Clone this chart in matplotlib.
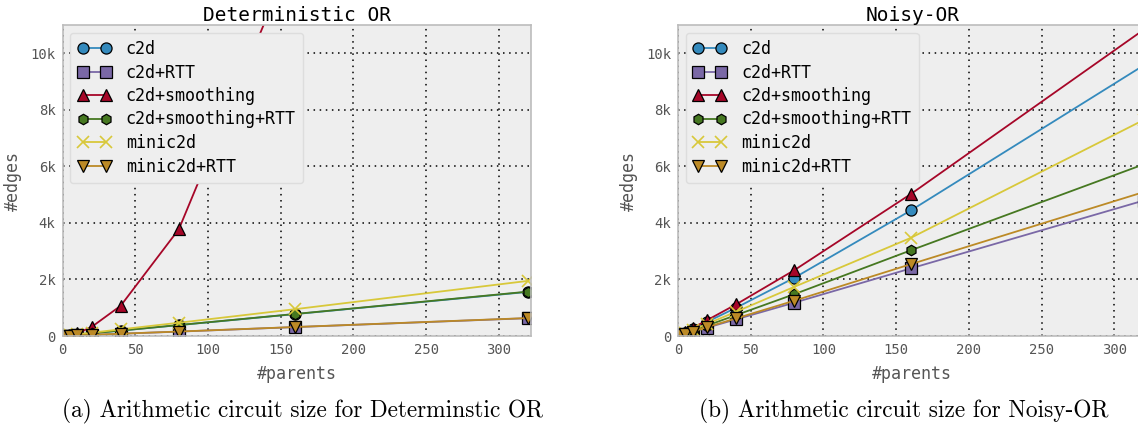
import matplotlib
matplotlib.use("Agg")
import matplotlib.pyplot as plt

# ---------------- data ----------------
parents = [2, 5, 10, 20, 40, 80, 160, 320]
series_names = ["c2d", "c2d+RTT", "c2d+smoothing", "c2d+smoothing+RTT", "minic2d", "minic2d+RTT"]

det_c2d = [10, 25, 50, 95, 190, 385, 775, 1560]
det_c2d_rtt = [5, 12, 22, 40, 80, 155, 315, 630]
det_c2d_smooth = [8, 30, 90, 320, 1070, 3780, 13700, 52000]
det_c2d_smooth_rtt = [10, 24, 48, 97, 192, 388, 780, 1570]
det_minic2d = [12, 30, 60, 118, 235, 470, 950, 1950]
det_minic2d_rtt = [5, 12, 23, 41, 82, 158, 318, 635]

noisy_c2d = [50, 120, 240, 500, 1000, 2060, 4440, 9570]
noisy_c2d_rtt = [30, 75, 150, 295, 590, 1180, 2390, 4790]
noisy_c2d_smooth = [60, 140, 280, 560, 1120, 2330, 5020, 10830]
noisy_c2d_smooth_rtt = [38, 95, 185, 370, 740, 1480, 3030, 6070]
noisy_minic2d = [45, 110, 215, 430, 860, 1740, 3470, 7640]
noisy_minic2d_rtt = [32, 80, 158, 315, 625, 1250, 2540, 5090]

ytick_vals = [0, 2000, 4000, 6000, 8000, 10000]
ytick_labels = ["0", "2k", "4k", "6k", "8k", "10k"]
xtick_vals = [0, 50, 100, 150, 200, 250, 300]

titles = ["Deterministic OR", "Noisy-OR"]
captions = ["(a) Arithmetic circuit size for Determinstic OR",
            "(b) Arithmetic circuit size for Noisy-OR"]

# ---------------- style ----------------
colors = ["#348ABD", "#7A68A6", "#A60628", "#467821", "#D8C83A", "#BC8A26"]
markers = ["o", "s", "^", "h", "x", "v"]
msizes = [8, 8, 8.5, 7.5, 9, 8.5]

MONO = "DejaVu Sans Mono"

fig = plt.figure(figsize=(11.38, 4.33), dpi=100)
W, H = 1138.0, 433.0

def make_axes(left_px):
    ax_left = left_px / W
    ax_w = 468.5 / W
    ax_b = 1 - 336.0 / H
    ax_h = (336.0 - 25.0) / H
    return fig.add_axes([ax_left, ax_b, ax_w, ax_h])

datasets = [
    [det_c2d, det_c2d_rtt, det_c2d_smooth, det_c2d_smooth_rtt, det_minic2d, det_minic2d_rtt],
    [noisy_c2d, noisy_c2d_rtt, noisy_c2d_smooth, noisy_c2d_smooth_rtt, noisy_minic2d, noisy_minic2d_rtt],
]

for i, left_px in enumerate([62.5, 678.0]):
    ax = make_axes(left_px)
    ax.set_facecolor("#EEEEEE")
    for s in ax.spines.values():
        s.set_color("#BCBCBC")
        s.set_linewidth(1.2)
    for j, name in enumerate(series_names):
        mew = 1.2 if markers[j] == "x" else 0.9
        mec = colors[j] if markers[j] == "x" else "black"
        ax.plot(parents, datasets[i][j], color=colors[j], marker=markers[j],
                markersize=msizes[j], markeredgecolor=mec, markeredgewidth=mew,
                linewidth=1.3, label=name, clip_on=True)
    ax.set_xlim(0, 322)
    ax.set_ylim(0, 11000)
    ax.set_xticks(xtick_vals)
    ax.set_yticks(ytick_vals)
    ax.set_yticklabels(ytick_labels)
    ax.tick_params(length=0, labelsize=10, labelcolor="#555555", pad=5)
    for lab in ax.get_xticklabels() + ax.get_yticklabels():
        lab.set_family(MONO)
    ax.grid(True, color="black", linestyle=(0, (1, 3)), linewidth=1.1)
    ax.set_axisbelow(True)
    ax.set_xlabel("#parents", family=MONO, fontsize=12, color="#555555", labelpad=6)
    ax.set_ylabel("#edges", family=MONO, fontsize=12, color="#555555", labelpad=6)
    ax.set_title(titles[i], family=MONO, fontsize=14, color="black", pad=3)
    leg = ax.legend(loc="upper left", numpoints=2, prop={"family": MONO, "size": 12},
                    handlelength=2.0, labelspacing=0.33, borderpad=0.45,
                    handletextpad=0.9, fancybox=True, framealpha=1.0,
                    borderaxespad=0.45)
    leg.get_frame().set_facecolor("#EEEEEE")
    leg.get_frame().set_edgecolor("#DDDDDD")

# captions
fig.text(303 / W, 1 - 411 / H, captions[0], family="cmr10", fontsize=16.8,
         ha="center", va="center")
fig.text(904 / W, 1 - 411 / H, captions[1], family="cmr10", fontsize=16.8,
         ha="center", va="center")

fig.savefig("out.png", dpi=100)
